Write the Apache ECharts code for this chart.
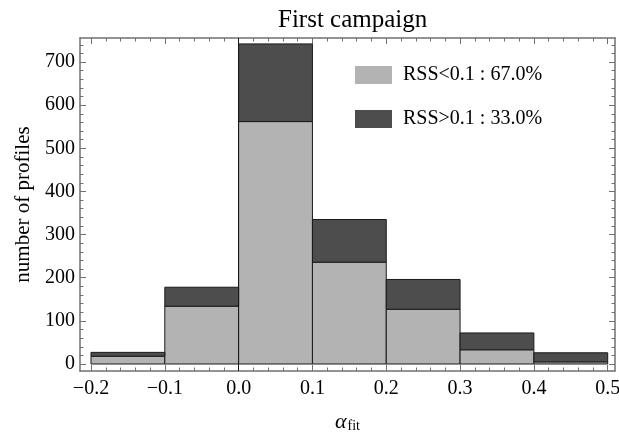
<!DOCTYPE html>
<html>
<head>
<meta charset="utf-8">
<script src="https://cdn.jsdelivr.net/npm/echarts@6/dist/echarts.min.js"></script>
<style>
  html, body { margin: 0; padding: 0; background: #fff; }
  #chart { width: 619px; height: 435px; }
</style>
</head>
<body>
<div id="chart"></div>
<script>
// bin edges of the histogram (alpha_fit)
const binEdges = [-0.2, -0.1, 0.0, 0.1, 0.2, 0.3, 0.4, 0.5];
// counts per bin
const lowRss = [18, 134, 562, 236, 127, 33, 5];
const highRss = [9, 44, 180, 99, 69, 39, 21];
const seriesNames = ['RSS<0.1 : 67.0%', 'RSS>0.1 : 33.0%'];

const xTicks = [-0.2, -0.1, 0.0, 0.1, 0.2, 0.3, 0.4, 0.5];
const yTicks = [0, 100, 200, 300, 400, 500, 600, 700];

const X_MIN = -0.2149, X_MAX = 0.5099;
const Y_MIN = -16.2, Y_MAX = 755.7;
const FONT = '"Liberation Serif", "DejaVu Serif", serif';
const FRAME = '#707070';

// minor ticks (every 0.02 on x, every 20 on y)
const xMinor = [];
for (let i = -10; i <= 25; i++) {
  const v = Math.round(i * 2) / 100;
  if (i % 5 !== 0 && v > X_MIN && v < X_MAX) xMinor.push(v);
}
const yMinor = [];
for (let v = 20; v < Y_MAX; v += 20) {
  if (v % 100 !== 0) yMinor.push(v);
}

const fmtX = v => {
  const s = Math.abs(v).toFixed(1);
  return v < -1e-9 ? '\u2212' + s : s;
};

const lowData = lowRss.map((c, i) => [binEdges[i], binEdges[i + 1], 0, c]);
const highData = highRss.map((c, i) => [binEdges[i], binEdges[i + 1], lowRss[i], lowRss[i] + c]);

function renderBar(params, api) {
  const p0 = api.coord([api.value(0), api.value(2)]);
  const p1 = api.coord([api.value(1), api.value(3)]);
  return {
    type: 'rect',
    shape: { x: p0[0], y: p1[1], width: p1[0] - p0[0], height: p0[1] - p1[1] },
    style: { fill: api.visual('color'), stroke: '#1a1a1a', lineWidth: 1 }
  };
}

function xAxisDef(position, ticks, len, withLabels, withLine) {
  return {
    type: 'value', position: position, min: X_MIN, max: X_MAX,
    axisLine: { show: withLine, onZero: false, lineStyle: { color: FRAME, width: 1.5 } },
    axisTick: { show: true, inside: true, length: len, customValues: ticks, lineStyle: { color: FRAME } },
    axisLabel: withLabels ? {
      show: true, customValues: ticks, formatter: fmtX, margin: 8,
      fontFamily: FONT, fontSize: 20, color: '#000'
    } : { show: false },
    splitLine: { show: false }
  };
}

function yAxisDef(position, ticks, len, withLabels, withLine) {
  return {
    type: 'value', position: position, min: Y_MIN, max: Y_MAX,
    axisLine: { show: withLine, onZero: false, lineStyle: { color: FRAME, width: 1.5 } },
    axisTick: { show: true, inside: true, length: len, customValues: ticks, lineStyle: { color: FRAME } },
    axisLabel: withLabels ? {
      show: true, customValues: ticks, margin: 5,
      fontFamily: FONT, fontSize: 20, color: '#000'
    } : { show: false },
    splitLine: { show: false }
  };
}

const xMain = xAxisDef('bottom', xTicks, 6, true, true);
xMain.name = '{a|\u03b1}{s|fit}';
xMain.nameLocation = 'middle';
xMain.nameGap = 40;
xMain.nameTextStyle = {
  rich: {
    a: { fontFamily: FONT, fontStyle: 'italic', fontSize: 22, color: '#000' },
    s: { fontFamily: FONT, fontSize: 14, color: '#000', padding: [8, 0, 0, 1] }
  }
};

const yMain = yAxisDef('left', yTicks, 6, true, true);
yMain.name = 'number of profiles';
yMain.nameLocation = 'middle';
yMain.nameGap = 46;
yMain.nameTextStyle = { fontFamily: FONT, fontSize: 21, color: '#000' };

const chart = echarts.init(document.getElementById('chart'));
chart.setOption({
  animation: false,
  backgroundColor: '#fff',
  title: {
    text: 'First campaign',
    left: 273, top: 3,
    textStyle: { fontFamily: FONT, fontSize: 25, fontWeight: 'normal', color: '#000' }
  },
  legend: {
    orient: 'vertical',
    left: 350, top: 60,
    itemWidth: 37, itemHeight: 18, itemGap: 24,
    icon: 'rect',
    itemStyle: { borderWidth: 0 },
    textStyle: { fontFamily: FONT, fontSize: 20, color: '#000', padding: [0, 0, 0, 6] },
    data: seriesNames
  },
  grid: {
    left: 80, right: 4, top: 38, bottom: 64,
    containLabel: false, outerBoundsMode: 'none'
  },
  xAxis: [
    xMain,
    xAxisDef('bottom', xMinor, 3.5, false, false),
    xAxisDef('top', xTicks, 6, false, true),
    xAxisDef('top', xMinor, 3.5, false, false)
  ],
  yAxis: [
    yMain,
    yAxisDef('left', yMinor, 3.5, false, false),
    yAxisDef('right', yTicks, 6, false, true),
    yAxisDef('right', yMinor, 3.5, false, false)
  ],
  series: [
    {
      name: seriesNames[0], type: 'custom', renderItem: renderBar,
      xAxisIndex: 0, yAxisIndex: 0,
      itemStyle: { color: '#b3b3b3' },
      encode: { x: [0, 1], y: [2, 3] },
      data: lowData
    },
    {
      name: seriesNames[1], type: 'custom', renderItem: renderBar,
      xAxisIndex: 0, yAxisIndex: 0,
      itemStyle: { color: '#4d4d4d' },
      encode: { x: [0, 1], y: [2, 3] },
      data: highData,
      markLine: {
        silent: true, symbol: 'none', label: { show: false },
        lineStyle: { color: '#1a1a1a', width: 1, type: 'solid' },
        data: [{ xAxis: 0 }]
      }
    }
  ]
});
</script>
</body>
</html>
